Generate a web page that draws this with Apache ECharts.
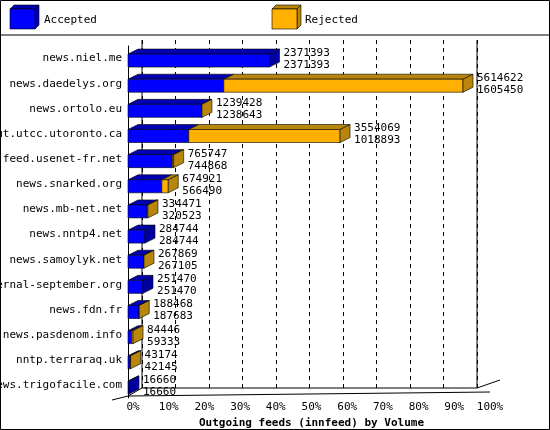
<!DOCTYPE html>
<html><head><meta charset="utf-8">
<script src="https://cdn.jsdelivr.net/npm/echarts@6/dist/echarts.min.js"></script>
<style>body{margin:0;background:#fff}#c{width:550px;height:430px}</style>
</head><body><div id="c"></div>
<script>
var hosts = ['news.niel.me','news.daedelys.org','news.ortolo.eu','nut.utcc.utoronto.ca','feed.usenet-fr.net',
  'news.snarked.org','news.mb-net.net','news.nntp4.net','news.samoylyk.net','eternal-september.org',
  'news.fdn.fr','news.pasdenom.info','nntp.terraraq.uk','news.trigofacile.com'];
var offered = [2371393,5614622,1239428,3554069,765747,674921,334471,284744,267869,251470,188468,84446,43174,16660];
var accepted = [2371393,1605450,1238643,1018893,744868,566490,320523,284744,267105,251470,187683,59333,42145,16660];
var maxVal = 5614622;

var FONT = 'DejaVu Sans Mono';
var DX = 10, DY = 5, H = 13;

function face(points, fill) {
    return {type: 'polygon', shape: {points: points}, style: {fill: fill, stroke: '#000', lineWidth: 0.6}};
}

// 3D bar: blue front part for accepted, orange for the rest
var renderBar = function (params, api) {
    var i = api.value(0);
    var p0 = api.coord([0, i]), pa = api.coord([api.value(1), i]), po = api.coord([api.value(2), i]);
    var y0 = p0[1] - H / 2 + 2, y1 = y0 + H;
    var x0 = p0[0], xa = pa[0], xo = po[0];
    var kids = [];
    kids.push(face([[x0, y0], [x0 + DX, y0 - DY], [xa + DX, y0 - DY], [xa, y0]], '#0000b0'));
    if (xo > xa) kids.push(face([[xa, y0], [xa + DX, y0 - DY], [xo + DX, y0 - DY], [xo, y0]], '#b8860b'));
    kids.push(face([[x0, y0], [xa, y0], [xa, y1], [x0, y1]], '#0000ff'));
    if (xo > xa) kids.push(face([[xa, y0], [xo, y0], [xo, y1], [xa, y1]], '#ffb000'));
    kids.push(face([[xo, y0], [xo + DX, y0 - DY], [xo + DX, y1 - DY], [xo, y1]], xo > xa ? '#b8860b' : '#0000a0'));
    var tx = xo + DX + 4;
    kids.push({type: 'text', style: {x: tx, y: y0 - 1, text: String(api.value(2)), font: '11px ' + FONT, fill: '#000', verticalAlign: 'middle'}});
    kids.push({type: 'text', style: {x: tx, y: y0 + 11, text: String(api.value(1)), font: '11px ' + FONT, fill: '#000', verticalAlign: 'middle'}});
    return {type: 'group', children: kids};
};

var data = hosts.map(function (h, i) { return [i, accepted[i], offered[i]]; });

function legendBox(x, y, front, dark) {
    return [
        {type: 'polygon', shape: {points: [[x, y + 4], [x + 4, y], [x + 29, y], [x + 25, y + 4]]}, style: {fill: dark, stroke: '#000', lineWidth: 0.6}},
        {type: 'polygon', shape: {points: [[x + 25, y + 4], [x + 29, y], [x + 29, y + 20], [x + 25, y + 24]]}, style: {fill: dark, stroke: '#000', lineWidth: 0.6}},
        {type: 'rect', shape: {x: x, y: y + 4, width: 25, height: 20}, style: {fill: front, stroke: '#000', lineWidth: 0.6}}
    ];
}

var chart = echarts.init(document.getElementById('c'));
chart.setOption({
    animation: false,
    grid: [
        {left: 128, right: 87, top: 46, bottom: 32, outerBoundsMode: 'none', containLabel: false},
        {left: 133, right: 60, top: 46, bottom: 40, outerBoundsMode: 'none', containLabel: false},
        {left: 142, right: 73, top: 40, bottom: 42, outerBoundsMode: 'none', containLabel: false}
    ],
    xAxis: [
        {gridIndex: 0, type: 'value', min: 0, max: maxVal, show: false},
        {gridIndex: 1, type: 'value', min: 0, max: 100, interval: 10, splitLine: {show: false},
            axisLine: {show: false}, axisTick: {show: false},
            axisLabel: {formatter: '{value}%', fontFamily: FONT, fontSize: 11, color: '#000', margin: 12},
            name: 'Outgoing feeds (innfeed) by Volume', nameLocation: 'middle', nameGap: 26,
            nameTextStyle: {fontFamily: FONT, fontSize: 11, fontWeight: 'bold', color: '#000'}},
        {gridIndex: 2, type: 'value', min: 0, max: 100, interval: 10,
            axisLine: {show: false}, axisTick: {show: false}, axisLabel: {show: false},
            splitLine: {lineStyle: {type: [4, 4], color: '#000', width: 1}}}
    ],
    yAxis: [
        {gridIndex: 0, type: 'category', data: hosts, inverse: true,
            axisLine: {lineStyle: {color: '#000'}}, axisTick: {show: false},
            axisLabel: {fontFamily: FONT, fontSize: 11, color: '#000', margin: 6}},
        {gridIndex: 1, type: 'value', show: false},
        {gridIndex: 2, type: 'value', show: false}
    ],
    series: [{type: 'custom', xAxisIndex: 0, yAxisIndex: 0, renderItem: renderBar,
        encode: {x: [1, 2], y: 0}, data: data, z: 10}],
    graphic: [
        {type: 'rect', shape: {x: 0.5, y: 0.5, width: 549, height: 429}, style: {fill: null, stroke: '#000', lineWidth: 1}},
        {type: 'line', shape: {x1: 0, y1: 35, x2: 550, y2: 35}, style: {stroke: '#000', lineWidth: 1}},
        {type: 'line', shape: {x1: 142, y1: 40, x2: 142, y2: 388}, style: {stroke: '#000', lineWidth: 1}},
        {type: 'line', shape: {x1: 477, y1: 40, x2: 477, y2: 388}, style: {stroke: '#000', lineWidth: 1}},
        {type: 'polyline', shape: {points: [[128, 396], [142, 388], [477, 388], [500, 380]]}, style: {stroke: '#000', lineWidth: 1, fill: null}},
        {type: 'line', shape: {x1: 112, y1: 400, x2: 128, y2: 396}, style: {stroke: '#000', lineWidth: 1}},
        {type: 'line', shape: {x1: 128, y1: 396, x2: 490, y2: 392}, style: {stroke: '#000', lineWidth: 1}},
        {type: 'group', children: legendBox(10, 5, '#0000ff', '#0000b0')},
        {type: 'text', style: {x: 44, y: 20, text: 'Accepted', font: '11px ' + FONT, fill: '#000', verticalAlign: 'middle'}},
        {type: 'group', children: legendBox(272, 5, '#ffb000', '#b8860b')},
        {type: 'text', style: {x: 305, y: 20, text: 'Rejected', font: '11px ' + FONT, fill: '#000', verticalAlign: 'middle'}}
    ]
});
</script>
</body></html>
